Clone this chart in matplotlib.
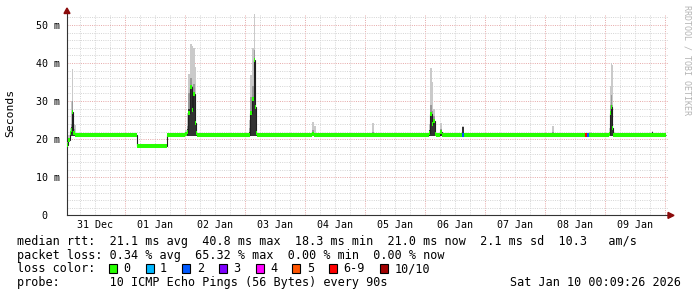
import numpy as np
import matplotlib.pyplot as plt
from matplotlib.patches import Rectangle, Polygon

plt.rcParams['font.family'] = 'DejaVu Sans Mono'

W, H = 697, 297

# x axis in days, 0 = the first midnight grid line
day_labels = ["31 Dec", "01 Jan", "02 Jan", "03 Jan", "04 Jan",
              "05 Jan", "06 Jan", "07 Jan", "08 Jan", "09 Jan"]
y_ticks = [0, 10, 20, 30, 40, 50]

# median rtt as steps (ms), edges in days
edges = [-0.967, -0.95, -0.925, -0.9, -0.883, -0.86, -0.84, -0.82,
         0.2, 0.7, 1.0, 1.028, 1.055, 1.08, 1.11, 1.137, 1.165, 1.19, 1.205,
         2.067, 2.083, 2.117, 2.142, 2.167, 2.19, 2.2,
         3.12, 3.15, 3.18,
         4.12, 4.15,
         5.067, 5.083, 5.11, 5.133, 5.16, 5.183, 5.25, 5.29,
         5.62, 5.645,
         7.12, 7.15,
         7.667, 7.705, 7.74, 7.78,
         8.067, 8.083, 8.1, 8.122, 8.14, 8.167,
         8.78, 8.8, 9.017]
median = [18.4, 19.9, 21.6, 22.4, 27.2, 21.6, 21.1,
          21.1, 18.3, 21.1, 21.4, 22.0, 26.8, 33.6, 27.7, 31.8, 24.2, 21.5,
          21.0, 21.2, 26.9, 30.5, 40.8, 28.4, 21.5,
          21.0, 21.3, 21.2,
          21.0, 21.1,
          21.0, 21.5, 26.5, 24.0, 24.8, 21.3, 21.0, 22.0,
          21.0, 21.0,
          21.0, 21.1,
          21.0, 21.0, 21.0, 21.2,
          21.0, 21.3, 26.8, 28.5, 22.9, 21.2,
          21.0, 21.1, 21.0]
# index into loss_names for each step
loss = [0, 0, 0, 0, 0, 0, 0,
        0, 0, 0, 0, 0, 0, 0, 0, 0, 0, 0,
        0, 0, 0, 0, 0, 0, 0,
        0, 0, 0,
        0, 0,
        0, 0, 0, 0, 0, 0, 0, 0,
        0, 2,
        0, 0,
        0, 6, 2, 0,
        0, 0, 0, 0, 0, 0,
        0, 0, 0]
smoke_max = [20.0, 21.0, 23.0, 30.0, 38.4, 24.0, 23.8,
             21.1, 18.3, 21.1, 22.5, 27.0, 37.0, 45.0, 44.5, 44.0, 39.0, 22.5,
             21.0, 25.0, 36.8, 44.0, 52.8, 39.0, 23.0,
             21.0, 24.6, 23.5,
             21.0, 24.3,
             21.0, 24.0, 38.6, 35.1, 28.0, 22.5, 21.0, 24.2,
             21.0, 23.5,
             21.0, 23.5,
             21.0, 21.0, 21.0, 22.0,
             21.0, 23.0, 34.0, 39.9, 39.5, 22.0,
             21.0, 22.2, 21.0]
smoke_mid = [19.3, 20.3, 22.2, 24.0, 30.0, 22.8, 21.3,
             21.1, 18.3, 21.1, 21.6, 23.5, 32.0, 36.0, 34.0, 34.5, 27.0, 21.8,
             21.0, 23.0, 31.0, 34.0, 43.4, 33.0, 21.8,
             21.0, 22.5, 21.6,
             21.0, 21.8,
             21.0, 22.5, 29.0, 27.5, 26.0, 21.6, 21.0, 22.8,
             21.0, 23.3,
             21.0, 21.8,
             21.0, 21.0, 21.0, 21.6,
             21.0, 22.0, 29.0, 31.5, 29.0, 21.4,
             21.0, 21.6, 21.0]
smoke_dark = [19.0, 20.2, 22.0, 23.2, 27.5, 22.0, 21.2,
              21.1, 18.3, 21.1, 21.5, 22.8, 28.0, 34.0, 30.0, 32.2, 25.0, 21.6,
              21.0, 22.0, 27.3, 30.8, 41.3, 29.0, 21.6,
              21.0, 21.8, 21.3,
              21.0, 21.2,
              21.0, 22.5, 26.9, 24.8, 25.2, 21.4, 21.0, 22.5,
              21.0, 23.3,
              21.0, 21.2,
              21.0, 21.0, 21.0, 21.7,
              21.0, 22.0, 26.9, 28.7, 26.5, 21.3,
              21.0, 21.8, 21.0]

loss_names = ["0", "1", "2", "3", "4", "5", "6-9", "10/10"]
loss_colors = ["#26ff00", "#00b8ff", "#0059ff", "#7e00ff",
               "#ff00ff", "#ff5500", "#ff0000", "#a10000"]

stats_rtt = "median rtt:  21.1 ms avg  40.8 ms max  18.3 ms min  21.0 ms now  2.1 ms sd  10.3   am/s"
stats_loss = "packet loss: 0.34 % avg  65.32 % max  0.00 % min  0.00 % now"
probe_text = "probe:       10 ICMP Echo Pings (56 Bytes) every 90s"
stamp_text = "Sat Jan 10 00:09:26 2026"


def fx(px):
    return px / W


def fy(py):
    return 1 - py / H


fig = plt.figure(figsize=(W / 100, H / 100), dpi=100)
ax = fig.add_axes([fx(67), fy(215.4), (668 - 67) / W, (215.4 - 13.5) / H])
ax.set_xlim(-0.967, 9.05)
ax.set_ylim(0, 53)

# grid: 6h / 2ms minor, day / 10ms major
for v in np.arange(-0.75, 9.05, 0.25):
    major = abs(v - round(v)) < 1e-6
    ax.axvline(v, color="#e6a8a8" if major else "#d4d4d4", lw=0.7,
               ls=(0, (1, 1.3)), zorder=0)
for v in range(2, 53, 2):
    major = v % 10 == 0
    ax.axhline(v, color="#e6a8a8" if major else "#d4d4d4", lw=0.7,
               ls=(0, (1, 1.3)), zorder=0)

# smoke
med = np.array(median)
lo = np.minimum(med, 20.8)
ax.stairs(smoke_max, edges, baseline=lo, fill=True, color="#cacaca", lw=0, zorder=2)
ax.stairs(smoke_mid, edges, baseline=lo, fill=True, color="#9a9a9a", lw=0, zorder=3)
ax.stairs(smoke_dark, edges, baseline=lo, fill=True, color="#333333", lw=0, zorder=4)

# median line, coloured by loss
ax.stairs(median, edges, baseline=None, color="#202020", lw=0.8, zorder=5)
ax.hlines(median, edges[:-1], edges[1:], colors=[loss_colors[i] for i in loss],
          lw=2.9, zorder=6)

ax.set_xticks(np.arange(len(day_labels)) - 0.5, day_labels)
ax.set_yticks(y_ticks, [f"{v} m" if v else "0  " for v in y_ticks])
ax.tick_params(axis="x", length=0, labelsize=7.2, pad=3.4)
ax.tick_params(axis="y", length=0, labelsize=7.2, pad=5)
for s in ["top", "right"]:
    ax.spines[s].set_visible(False)
for s in ["left", "bottom"]:
    ax.spines[s].set_color("#333333")
    ax.spines[s].set_linewidth(0.8)

# axis arrows
fig.add_artist(Polygon([[fx(67), fy(8)], [fx(64), fy(13.5)], [fx(70), fy(13.5)]],
                       closed=True, color="#8b0a0a"))
fig.add_artist(Polygon([[fx(674), fy(215.4)], [fx(668), fy(212.4)], [fx(668), fy(218.4)]],
                       closed=True, color="#8b0a0a"))

fig.text(fx(10), fy(113), "Seconds", rotation=90, fontsize=8.2,
         ha="center", va="center")
fig.text(fx(687), fy(60), "RRDTOOL / TOBI OETIKER", rotation=270, fontsize=6,
         color="#b4b4b4", ha="center", va="center")

# legend block
fs = 8.5
fig.text(fx(16.7), fy(244.7), stats_rtt, fontsize=fs, va="baseline")
fig.text(fx(16.7), fy(258.6), stats_loss, fontsize=fs, va="baseline")
fig.text(fx(16.7), fy(272.2), "loss color:", fontsize=fs, va="baseline")
x = 109.0
for name, col in zip(loss_names, loss_colors):
    fig.add_artist(Rectangle((fx(x), fy(273)), 8 / W, 9 / H, facecolor=col,
                             edgecolor="black", lw=0.8))
    fig.text(fx(x + 14.3), fy(272.2), name, fontsize=fs, va="baseline")
    x += 14.3 + len(name) * 7.1 + 15.3
fig.text(fx(16.7), fy(286.2), probe_text, fontsize=fs, va="baseline")
fig.text(fx(681), fy(286.2), stamp_text, fontsize=fs, va="baseline", ha="right")

fig.savefig("out.png", dpi=100)
